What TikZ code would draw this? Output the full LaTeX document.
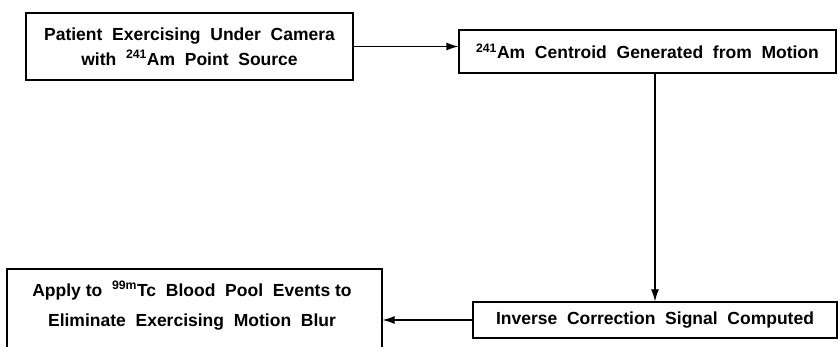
\documentclass[tikz,border=0pt]{standalone}
\usepackage{fontspec}
\setmainfont{Liberation Sans}
\usetikzlibrary{arrows.meta}
\begin{document}
\begin{tikzpicture}[x=1pt,y=-1pt,
  box/.style={draw,line width=1.2pt,rectangle,inner sep=0pt,align=center,
    font=\fontsize{17.5}{25}\selectfont\bfseries},
  conn/.style={line width=1.2pt,-{Latex[length=12pt,width=8pt]}}]
\useasboundingbox (0,0) rectangle (838,347);
\clip (0,0) rectangle (838,347);
\node[box,minimum width=327pt,minimum height=67pt] (b1) at (189.5,46.5)
  {Patient\ \ Exercising\ \ Under\ \ Camera\\with\ \ \textsuperscript{241}Am\ \ Point\ \ Source};
\node[box,minimum width=377pt,minimum height=43pt] (b2) at (647.5,51.5)
  {\textsuperscript{241}Am\ \ Centroid\ \ Generated\ \ from\ \ Motion};
\node[box,minimum width=364pt,minimum height=36pt] (b3) at (655,320)
  {Inverse\ \ Correction\ \ Signal\ \ Computed};
\node[box,minimum width=375pt,minimum height=91pt] (b4) at (194.5,314.5) {};
\node[font=\fontsize{17.5}{30}\selectfont\bfseries,align=center,anchor=north,inner sep=0pt] (t4) at (192,281)
  {Apply\ to\ \ \textsuperscript{99m}Tc\ \ Blood\ \ Pool\ \ Events\ to\\Eliminate\ \ Exercising\ \ Motion\ \ Blur};
\draw[conn] (b1.east) -- (b1.east -| b2.west);
\draw[conn] (b2.south -| b3.north) -- (b3.north);
\draw[conn] (b3.west) -- (b3.west -| b4.east);
\end{tikzpicture}
\end{document}
